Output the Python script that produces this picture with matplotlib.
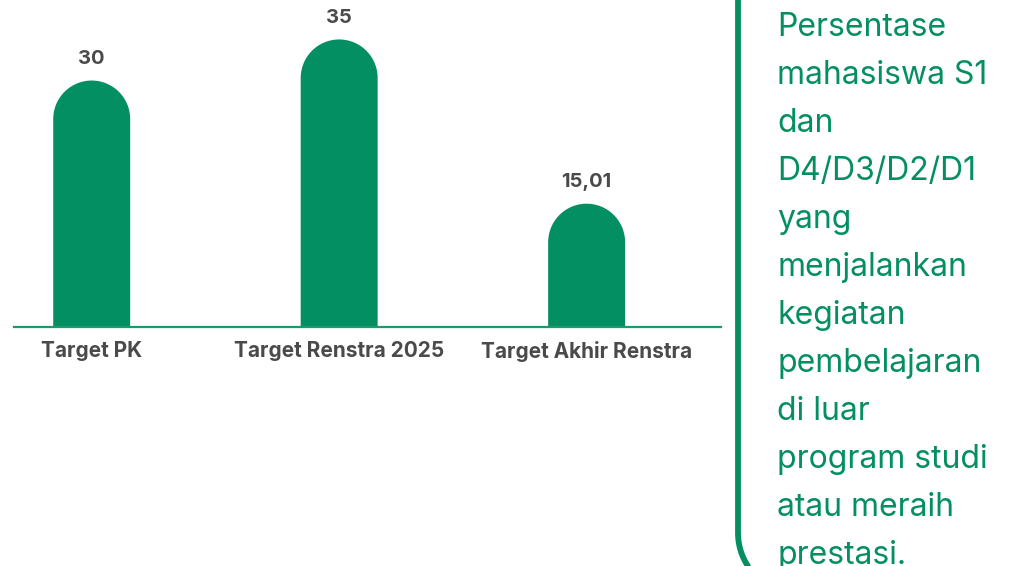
import numpy as np
import matplotlib
matplotlib.use("Agg")
import matplotlib.pyplot as plt
from matplotlib.path import Path
from matplotlib.patches import PathPatch

categories = ["Target PK", "Target Renstra 2025", "Target Akhir Renstra"]
values = [30, 35, 15.01]
value_labels = ["30", "35", "15,01"]
description = ["Persentase", "mahasiswa S1", "dan", "D4/D3/D2/D1", "yang",
               "menjalankan", "kegiatan", "pembelajaran", "di luar",
               "program studi", "atau meraih", "prestasi."]

green = "#038f61"
grey = "#4a4a4a"
plt.rcParams['font.family'] = ['Inter', 'DejaVu Sans']

W, H = 1011, 566
fig = plt.figure(figsize=(W / 100, H / 100), dpi=100)

# bar area: baseline at 327 px from top, spans x 14..721
ax = fig.add_axes([14 / W, (H - 327) / H, 707 / W, 327 / H])
xmin, xmax, ymax = -0.314, 2.543, 39.8
ax.set_xlim(xmin, xmax)
ax.set_ylim(0, ymax)
for s in ["top", "right", "left"]:
    ax.spines[s].set_visible(False)
ax.spines["bottom"].set_color("#1b9a70")
ax.spines["bottom"].set_linewidth(1.6)
ax.set_yticks([])
x = np.arange(len(categories))
ax.set_xticks(x)
ax.set_xticklabels(categories, fontsize=15, fontweight="bold", color=grey)
ax.tick_params(axis="x", length=0, pad=10)

bw = 0.311
# rounded cap: half the bar width, converted to y data units
px_per_x = 707 / (xmax - xmin)
px_per_y = 327 / ymax
r_y = (bw * px_per_x / 2) / px_per_y


def rounded_bar(xc, top):
    half = bw / 2
    base = top - r_y
    t = np.linspace(0, np.pi, 40)
    pts = [(xc - half, 0), (xc + half, 0), (xc + half, base)]
    pts += [(xc + half * np.cos(a), base + r_y * np.sin(a)) for a in t]
    pts += [(xc - half, 0)]
    return PathPatch(Path(pts), facecolor=green, edgecolor="none")


for xi, v, lab in zip(x, values, value_labels):
    ax.add_patch(rounded_bar(xi, v))
    ax.annotate(lab, (xi, v), xytext=(0, 9), textcoords="offset points",
                ha="center", va="bottom", fontsize=14.5, fontweight="bold", color=grey)

# side panel with description
ov = fig.add_axes([0, 0, 1, 1])
ov.set_xlim(0, W)
ov.set_ylim(H, 0)
ov.axis("off")
R = 60
verts = [(738, -10), (738, 533)]
theta = np.linspace(np.pi, np.pi / 2, 30)
verts += [(738 + R + R * np.cos(t), 533 + R * np.sin(t)) for t in theta]
ov.add_patch(PathPatch(Path(verts), fill=False, edgecolor=green, linewidth=4.2,
                       capstyle="butt"))

for i, line in enumerate(description):
    ov.text(777, 36 + 48 * i, line, fontsize=23, color=green, ha="left", va="baseline")

fig.savefig("out.png", dpi=100)
